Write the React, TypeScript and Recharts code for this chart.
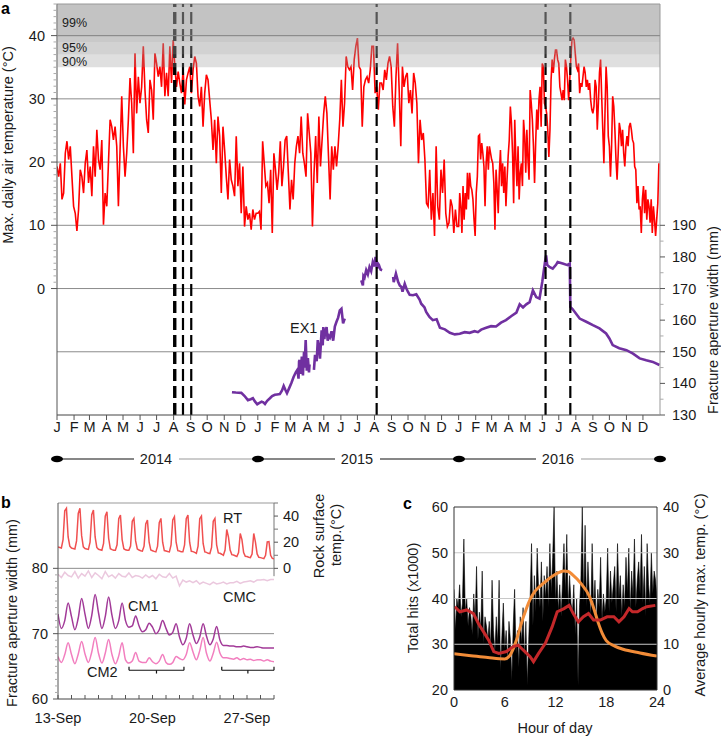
import {
  Area,
  ComposedChart,
  Line,
  LineChart,
  ReferenceArea,
  ReferenceLine,
  XAxis,
  YAxis,
} from "recharts";

const FONT = '"Liberation Sans", Arial, Helvetica, sans-serif';
const txt = { fontFamily: FONT, fontSize: 14.5, fill: "#1a1a1a" };

// ---------- panel a: daily max air temperature (°C), one array per year ----------
const tmax2014 = [
  19.3, 17.7, 19.8, 14.1, 15.1, 21.4, 23.3, 20.4, 22.5, 17.7,
  13.0, 11.9, 9.1, 12.5, 18.8, 17.7, 15.1, 19.8, 21.9, 16.7,
  19.3, 14.6, 22.5, 17.7, 25.1, 20.4, 18.8, 23.5, 10.1, 15.1,
  13.0, 19.8, 26.7, 25.6, 23.5, 25.6, 22.5, 13.0, 21.9, 30.4,
  22.5, 17.7, 21.4, 26.7, 33.3, 29.3, 21.4, 37.2, 27.7, 33.5,
  29.3, 31.9, 38.3, 31.4, 26.7, 24.6, 33.0, 31.4, 26.7, 37.2,
  35.6, 33.5, 35.1, 31.9, 38.8, 30.4, 34.1, 30.4, 38.3, 32.5,
  39.3, 35.1, 31.9, 34.3, 32.5, 30.9, 34.6, 29.1, 33.0, 34.1,
  35.1, 30.9, 34.6, 36.7, 35.6, 30.4, 28.8, 31.9, 25.6, 30.9,
  33.8, 33.0, 29.8, 26.7, 21.9, 26.7, 19.8, 27.2, 24.1, 15.1,
  25.6, 21.9, 17.7, 14.1, 20.4, 17.2, 16.2, 14.6, 24.1, 16.2,
  19.8, 11.9, 19.3, 9.8, 13.0, 10.9, 11.9, 9.3, 12.5, 10.9,
  11.9,
];
const tmax2015 = [
  11.9, 12.2, 9.3, 23.3, 19.8, 16.2, 16.7, 13.5, 18.8, 8.8,
  21.4, 18.8, 15.6, 18.3, 23.3, 16.2, 19.3, 23.5, 24.1, 18.3,
  12.5, 17.2, 14.1, 19.8, 22.5, 24.1, 21.4, 27.2, 21.4, 19.8,
  17.7, 27.7, 24.6, 21.4, 9.8, 18.3, 24.1, 16.7, 27.2, 19.3,
  23.5, 27.7, 30.4, 27.7, 20.9, 14.1, 22.5, 18.8, 22.5, 19.3,
  22.5, 26.7, 33.0, 25.6, 29.3, 36.7, 35.1, 34.6, 35.1, 31.4,
  36.2, 38.3, 39.6, 35.1, 34.6, 25.6, 31.9, 33.0, 33.5, 32.5,
  34.6, 38.3, 38.3, 30.9, 31.9, 28.3, 32.5, 32.5, 31.4, 34.6,
  33.0, 35.6, 36.7, 35.1, 28.8, 25.6, 33.5, 38.8, 31.4, 22.5,
  35.1, 31.9, 33.5, 34.1, 29.3, 31.4, 27.7, 34.1, 32.5, 29.3,
  19.8, 26.7, 23.5, 24.6, 20.4, 13.5, 13.0, 18.8, 10.9, 15.1,
  8.3, 22.5, 13.0, 10.9, 18.8, 15.1, 20.4, 11.9, 9.8, 10.4,
  14.1, 13.0, 8.8, 12.5, 9.8,
];
const tmax2016 = [
  9.8, 15.1, 13.0, 8.8, 16.2, 10.9, 15.1, 12.5, 18.3, 14.1,
  18.3, 16.2, 15.6, 14.1, 10.9, 8.3, 15.1, 17.7, 24.1, 24.3,
  20.4, 23.0, 21.4, 19.3, 13.0, 19.8, 22.5, 18.8, 22.5, 21.4,
  20.4, 19.8, 16.7, 9.3, 18.8, 15.6, 11.9, 18.3, 21.9, 16.2,
  19.8, 15.1, 19.3, 13.0, 17.2, 20.9, 23.5, 28.8, 26.2, 21.4,
  13.5, 26.7, 20.4, 16.2, 22.5, 14.1, 18.3, 19.8, 16.2, 26.7,
  24.1, 18.3, 25.1, 20.4, 17.2, 31.4, 29.3, 26.7, 22.5, 16.7,
  23.0, 28.3, 25.1, 29.8, 31.9, 25.6, 35.6, 35.1, 29.3, 28.8,
  27.7, 25.1, 20.8, 25.1, 33.0, 36.2, 34.1, 36.2, 37.7, 37.7,
  36.2, 35.6, 31.9, 30.9, 29.8, 31.4, 29.8, 36.2, 35.1, 33.0,
  29.8, 33.0, 36.7, 39.3, 39.6, 39.3, 37.2, 35.1, 34.6, 35.6,
  30.9, 32.5, 31.9, 33.5, 35.1, 34.1, 31.9, 33.0, 31.4, 32.5,
  29.8, 28.3, 27.7, 28.8, 33.0, 31.9, 25.1, 29.3, 34.1, 36.2,
  30.4, 25.1, 19.8, 27.7, 35.1, 31.9, 24.1, 22.5, 17.7, 22.5,
  30.4, 28.8, 25.1, 20.4, 17.2, 21.4, 26.2, 25.1, 22.5, 25.1,
  21.4, 19.3, 22.5, 24.1, 22.5, 25.6, 26.2, 25.1, 23.5, 23.0,
  19.3, 18.8, 13.5, 16.2, 12.5, 13.0, 8.8, 14.1, 16.2, 11.9,
  15.6, 10.9, 14.1, 13.0, 10.4, 14.1, 8.8, 13.0, 10.9, 8.3,
  10.9, 13.5, 19.8,
];

// ---------- panel a: fracture aperture EX1 (mm); day 0 = 1 Jan 2014, null = gap ----------
const ex1Day = [
  318, 325, 335, 341, 347, 352, 356, 360, 364, 368, 372, 375, 378, 382, 387, 391, 396, 400, 405, 409,
  412, 415, 418, 422, 426, 430, 434, 437, 439, 440, 441, 443, 445, 447, 449, 450, 452, 454, 456, 458,
  459, 462, 467, 469, 472, 474, 477, 478, 481, 483, 484, 486, 487, 490, 492, 494, 496, 499, 502, 505,
  508, 511, 514, 517, 520, 523, 540, 553, 556, 557, 559, 562, 565, 568, 571, 574, 577, 579, 582, 583,
  585, 588, 591, 600, 611, 612, 616, 620, 623, 626, 628, 632, 635, 638, 641, 647, 653, 659, 662, 668,
  671, 677, 683, 690, 696, 705, 714, 723, 732, 741, 750, 759, 765, 771, 780, 789, 798, 807, 816, 826,
  835, 841, 847, 853, 859, 865, 871, 877, 882, 887, 889, 891, 895, 901, 907, 910, 919, 928, 932, 933,
  937, 950, 962, 974, 986, 998, 1004, 1010, 1022, 1035, 1047, 1059, 1071, 1083, 1095,
];
const ex1Width = [
  137.2, 137.1, 137.0, 136.0, 134.7, 135.0, 135.3, 134.2, 133.4, 133.8, 134.2, 134.0, 133.5, 134.5, 135.3, 136.0, 136.4, 136.5, 136.6, 137.8,
  139.2, 138.0, 136.9, 138.5, 140.1, 142.0, 143.5, 144.3, 141.5, 147.0, 147.4, 143.0, 148.5, 142.5, 150.0, 145.0, 153.7, 144.0, 148.0, 143.5,
  146.0, null, 144.3, 149.0, 147.0, 153.7, 150.0, 147.8, 156.8, 152.0, 157.8, 154.0, 156.0, 157.8, 153.5, 155.0, 154.5, 156.5, 153.5, 158.0,
  159.5, 160.8, 163.1, 163.6, 159.0, 160.5, null, 172.6, 171.0, 174.0, 173.5, 175.8, 174.5, 176.8, 175.5, 178.4, 177.0, 180.0, 176.3, 178.0,
  177.5, 176.0, 175.8, null, 173.7, 172.0, 174.7, 172.1, 171.0, 170.5, 169.0, 171.5, 170.0, 168.9, 168.0, 167.9, 168.2, 166.5, 165.2, 164.0,
  162.6, 161.0, 160.0, 160.3, 157.6, 157.1, 156.0, 155.5, 155.7, 156.2, 156.0, 156.5, 156.2, 157.0, 157.6, 158.1, 158.0, 159.2, 160.0, 161.3,
  162.4, 165.0, 164.0, 165.0, 165.7, 169.4, 167.3, 166.8, 172.1, 178.4, 180.5, 177.5, 176.8, 176.3, 177.5, 178.4, 177.9, 177.4, 177.9, 164.2,
  163.5, 160.5, 159.5, 158.4, 157.4, 155.8, 154.2, 152.1, 151.1, 150.5, 149.4, 147.9, 147.3, 146.8, 145.8,
];

const eventDays = [214, 229, 244, 581, 888, 933];
const bandEdges = [35, 37, 39, 40, 45];
const bandOpacity = [0.3, 0.43, 0.51, 0.57];
const tempGrid = [-10, 0, 10, 20, 30, 40];
const monthLetters = ["J", "F", "M", "A", "M", "J", "J", "A", "S", "O", "N", "D"];
const years = [2014, 2015, 2016];

const DAY0 = Date.UTC(2014, 0, 1);
const monthTicks = years.flatMap((y) => monthLetters.map((_, m) => (Date.UTC(y, m, 1) - DAY0) / 864e5));
const monthOf = (d: number) => monthLetters[new Date(DAY0 + d * 864e5).getUTCMonth()];
const tempTicks = Array.from({ length: 46 }, (_, i) => i);
const mmTicks = [130, 135, 140, 145, 150, 155, 160, 165, 170, 175, 180, 185, 190];

const redRows = [
  ...tmax2014.map((t, i) => ({ day: (i * 365) / tmax2014.length, t })),
  ...tmax2015.map((t, i) => ({ day: 365 + (i * 365) / tmax2015.length, t })),
  ...tmax2016.map((t, i) => ({ day: 730 + (i * 366) / tmax2016.length, t })),
];
const ex1Rows = ex1Day.map((day, i) => ({ day, w: ex1Width[i] }));

// ---------- panel b: 13-29 Sep, day 0 = 13 Sep 00:00 ----------
// rock surface temperature, 3-hourly (00,03,...,21 h per row)
const rtTemp = [
  16.4, 16.0, 15.6, 22, 44, 46, 24, 17,
  15.5, 15.1, 14.8, 21, 42, 46, 25, 16.5,
  15.2, 14.8, 14.5, 20, 41, 44.6, 24, 16,
  14.6, 14.2, 13.8, 19, 40, 43.3, 23, 15,
  14.3, 13.9, 13.8, 18, 38, 40.8, 22, 15,
  14.2, 13.8, 13.8, 17, 36, 38.2, 21, 14.8,
  14.0, 13.5, 13.2, 17, 34, 36.9, 20, 14,
  13.5, 13.0, 12.6, 17, 35, 38.2, 20, 13.6,
  13.3, 12.9, 12.6, 18, 37, 39.5, 20, 13.5,
  13.2, 12.6, 12.6, 18, 38, 40.8, 20, 13,
  12.8, 12.2, 11.5, 17, 38, 40, 19, 12.5,
  12.2, 11.5, 11.3, 16, 36, 38.2, 18, 11.8,
  11.5, 10.8, 10.0, 14, 29.7, 24, 14, 10.5,
  10.2, 9.6, 9.0, 12, 26.7, 22, 12, 9.2,
  9.0, 8.5, 8.2, 11, 26.7, 20, 11, 8.5,
  8.2, 7.8, 7.4, 10, 20.3, 20.5, 10, 7.6,
  7.4,
];
// crack meters, 6-hourly (00,06,12,18 h per row)
const cmcWidth = [
  79.1, 78.6, 79.4, 78.9, 78.7, 79.5, 78.5, 79.2, 78.8, 79.6, 78.6, 79.3,
  78.9, 78.4, 79.5, 78.7, 79.0, 78.5, 79.2, 78.8, 78.7, 79.3, 78.6, 78.9,
  78.8, 78.5, 79.0, 78.6, 78.9, 78.4, 79.1, 78.7, 78.6, 79.2, 78.5, 78.8,
  77.3, 78.2, 77.9, 78.1, 77.8, 78.1, 77.6, 77.9, 77.7, 77.5, 77.9, 77.6,
  77.7, 77.9, 77.6, 77.8, 77.8, 78.0, 77.7, 77.9, 78.0, 78.1, 77.9, 78.2,
  78.2, 78.3, 78.1, 78.3, 78.3,
];
const cm1Width = [
  73.0, 70.8, 72.0, 74.7, 72.6, 70.6, 72.4, 75.4, 73.0, 70.8, 72.8, 76.0,
  73.2, 70.8, 72.6, 75.6, 72.8, 70.8, 72.0, 74.7, 72.0, 71.0, 71.2, 72.7,
  71.2, 70.3, 70.6, 71.6, 71.0, 70.0, 70.6, 72.0, 70.8, 69.8, 70.2, 71.5,
  69.5, 68.3, 69.3, 71.5, 69.8, 68.5, 69.5, 71.5, 69.6, 68.3, 69.2, 71.1,
  69.0, 68.2, 68.2, 68.1, 68.1, 68.0, 68.0, 68.1, 68.0, 67.9, 67.9, 68.0,
  67.9, 67.8, 67.8, 67.8, 67.8,
];
const cm2Width = [
  66.5, 65.6, 66.8, 68.6, 66.8, 65.4, 66.9, 68.8, 66.9, 65.6, 67.2, 69.4,
  67.0, 65.5, 67.0, 69.1, 66.8, 65.4, 66.6, 68.6, 66.0, 65.5, 65.8, 67.1,
  65.8, 65.6, 65.6, 66.3, 65.7, 65.4, 65.8, 66.8, 65.6, 65.3, 65.6, 66.5,
  66.2, 66.0, 66.8, 68.6, 67.2, 66.0, 67.4, 69.4, 67.0, 65.8, 67.0, 68.7,
  67.0, 66.3, 66.3, 66.2, 66.1, 66.3, 66.0, 66.2, 66.0, 66.1, 65.9, 66.0,
  66.0, 65.8, 66.0, 65.8, 65.7,
];
const bTickDays = [0, 7, 14];
const bTickLabels = ["13-Sep", "20-Sep", "27-Sep"];
const bracketSpans = [
  [5.26, 9.33],
  [12.13, 16],
];

const rtRows = rtTemp.map((v, i) => ({ day: i / 8, v }));
const cmcRows = cmcWidth.map((v, i) => ({ day: i / 4, v }));
const cm1Rows = cm1Width.map((v, i) => ({ day: i / 4, v }));
const cm2Rows = cm2Width.map((v, i) => ({ day: i / 4, v }));

// ---------- panel c: hits per 10 minutes (x1000) and hourly temperatures ----------
const hits = [
  42, 33, 40, 38, 43, 36, 39, 53, 37, 40, 34, 38, 36, 32, 41, 35, 47, 31,
  37, 33, 46, 30, 36, 34, 31, 35, 29, 44, 33, 28, 36, 30, 44, 24, 32, 39,
  29, 33, 26, 35, 31, 22, 34, 42, 28, 33, 25, 36, 30, 38, 27, 35, 21, 31,
  40, 52, 34, 45, 37, 51, 42, 38, 48, 35, 45, 40, 47, 38, 52, 41, 49, 60,
  39, 46, 37, 43, 36, 44, 52, 41, 54, 38, 45, 39, 37, 43, 32, 40, 21, 38,
  44, 60, 39, 56, 38, 48, 41, 36, 52, 38, 44, 34, 42, 38, 49, 35, 41, 37,
  40, 51, 37, 46, 39, 43, 47, 37, 52, 40, 45, 36, 43, 38, 49, 41, 51, 37,
  46, 40, 53, 38, 44, 48, 41, 54, 39, 47, 36, 52, 43, 39, 50, 41, 46, 44,
  40,
];
const rockHour = [
  0.1, 0.7, 1.5, 2.3, 2.9, 3.5, 4.1, 4.7, 5.3, 6.2, 7.0, 7.6, 8.2, 9.0, 9.4, 10.0, 10.8, 11.6, 12.2,
  13.0, 13.6, 14.1, 14.7, 15.3, 15.9, 16.5, 17.3, 18.1, 18.9, 19.5, 20.1, 20.7, 21.1, 21.7, 22.3, 22.8, 23.8,
];
const rockTemp = [
  18.2, 17.1, 17.5, 16.7, 14.5, 12.7, 10.9, 8.4, 8.0, 8.4, 9.5, 9.8, 8.7, 7.3, 6.2, 8.0, 10.2, 13.8, 17.1,
  17.8, 18.5, 16.7, 14.9, 16.0, 16.7, 15.3, 15.3, 16.0, 16.0, 14.9, 16.0, 17.8, 17.1, 17.1, 17.8, 18.2, 18.5,
];
const airHour = [0, 2, 4, 6, 6.5, 7, 7.5, 8, 8.5, 9, 9.5, 10, 11, 12, 13, 13.5, 14, 15, 16, 16.5, 17, 17.5, 18, 19, 20, 22, 24];
const airTemp = [7.9, 7.5, 7.1, 6.8, 7.3, 9.0, 11.6, 14.8, 17.5, 19.8, 21.4, 22.4, 24.0, 25.3, 26.0, 25.9, 25.2, 23.3, 20.5, 18.0, 15.0, 12.5, 10.8, 9.6, 8.9, 8.1, 7.4];
const cHourTicks = [0, 6, 12, 18, 24];

const hitRows = hits.map((v, i) => ({ h: i / 6, v }));
const rockRows = rockHour.map((h, i) => ({ h, v: rockTemp[i] }));
const airRows = airHour.map((h, i) => ({ h, v: airTemp[i] }));

// ---------- tick renderers ----------
const leftTick = (isMajor: (v: number) => boolean, minor: number, major: number, gap: number, col = "#999") =>
  (p: any) => {
    const v = p.payload.value;
    const m = isMajor(v);
    return (
      <g>
        {(m ? major : minor) > 0 && <line x1={p.x} x2={p.x - (m ? major : minor)} y1={p.y} y2={p.y} stroke={m ? "#555" : col} />}
        {m && (
          <text x={p.x - gap} y={p.y} dy="0.35em" textAnchor="end" {...txt}>
            {v}
          </text>
        )}
      </g>
    );
  };
const rightTick = (isMajor: (v: number) => boolean, minor: number, major: number, gap: number, col = "#999") =>
  (p: any) => {
    const v = p.payload.value;
    const m = isMajor(v);
    return (
      <g>
        {(m ? major : minor) > 0 && <line x1={p.x} x2={p.x + (m ? major : minor)} y1={p.y} y2={p.y} stroke={m ? "#555" : col} />}
        {m && (
          <text x={p.x + gap} y={p.y} dy="0.35em" textAnchor="start" {...txt}>
            {v}
          </text>
        )}
      </g>
    );
  };

const monthTick = (p: any) => (
  <g>
    <line x1={p.x} x2={p.x} y1={p.y} y2={p.y + 5} stroke="#555" />
    <text x={p.x} y={p.y + 12} dy="0.35em" textAnchor="middle" {...txt}>
      {monthOf(p.payload.value)}
    </text>
  </g>
);
const sepTick = (p: any) => {
  const k = bTickDays.indexOf(p.payload.value);
  return (
    <g>
      <line x1={p.x} x2={p.x} y1={p.y} y2={p.y - 4} stroke="#555" />
      {k >= 0 && (
        <text x={p.x} y={p.y + 19} dy="0.35em" textAnchor="middle" {...txt}>
          {bTickLabels[k]}
        </text>
      )}
    </g>
  );
};
const hourTick = (p: any) => (
  <text x={p.x} y={p.y + 12} dy="0.35em" textAnchor="middle" {...txt}>
    {p.payload.value}
  </text>
);

const axisBase = { tickSize: 0, tickMargin: 0, tickLine: false, interval: 0 as const, allowDataOverflow: true };
const A_MARGIN = { top: 4, right: 0, bottom: 0, left: 0 };

function PanelA() {
  return (
    <LineChart width={721} height={440} margin={A_MARGIN}>
      <XAxis
        {...axisBase}
        type="number"
        dataKey="day"
        domain={[0, 1096]}
        ticks={monthTicks}
        height={25}
        axisLine={{ stroke: "#444" }}
        tick={monthTick}
      />
      <YAxis
        {...axisBase}
        yAxisId="t"
        type="number"
        domain={[-20, 45]}
        ticks={tempTicks}
        width={57}
        axisLine={{ stroke: "#555" }}
        tick={leftTick((v) => v % 10 === 0, 3.5, 6, 12, "#aaa")}
      />
      <YAxis
        {...axisBase}
        yAxisId="mm"
        orientation="right"
        type="number"
        domain={[130, 260]}
        ticks={mmTicks}
        width={61}
        axisLine={{ stroke: "#999" }}
        tick={rightTick((v) => v % 10 === 0, 3.5, 5, 12, "#aaa")}
      />
      {tempGrid.map((v) => (
        <ReferenceLine key={v} yAxisId="t" y={v} stroke="#8c8c8c" strokeWidth={1} />
      ))}
      <ReferenceLine yAxisId="t" y={45} stroke="#999" />
      <Line data={redRows} yAxisId="t" dataKey="t" stroke="#ff0000" strokeWidth={1.6} dot={false} activeDot={false} isAnimationActive={false} />
      <Line
        data={ex1Rows}
        yAxisId="mm"
        dataKey="w"
        stroke="#7030a0"
        strokeWidth={2.6}
        dot={false}
        activeDot={false}
        connectNulls={false}
        isAnimationActive={false}
      />
      {eventDays.map((d, i) => (
        <ReferenceLine key={d} yAxisId="t" x={d} stroke="#000" strokeWidth={i === 0 ? 3.4 : 2.2} strokeDasharray="12 5" />
      ))}
    </LineChart>
  );
}

// percentile bands sit above the data, so they get their own chart laid over panel a
function PanelABands() {
  return (
    <LineChart width={721} height={440} margin={{ top: 4, right: 61, bottom: 25, left: 57 }}>
      <XAxis hide type="number" dataKey="day" domain={[0, 1096]} allowDataOverflow />
      <YAxis hide yAxisId="t" type="number" domain={[-20, 45]} allowDataOverflow />
      <Line data={redRows} yAxisId="t" dataKey="t" stroke="none" dot={false} activeDot={false} isAnimationActive={false} />
      {bandOpacity.map((op, i) => (
        <ReferenceArea key={i} yAxisId="t" y1={bandEdges[i]} y2={bandEdges[i + 1]} fill="#969696" fillOpacity={op} stroke="none" />
      ))}
      <ReferenceLine yAxisId="t" y={40} stroke="#8c8c8c" />
    </LineChart>
  );
}

function PanelB() {
  return (
    <LineChart width={340} height={257} margin={{ top: 23, right: 0, bottom: 0, left: 0 }}>
      <XAxis
        {...axisBase}
        type="number"
        dataKey="day"
        domain={[0, 16]}
        ticks={Array.from({ length: 17 }, (_, i) => i)}
        height={38}
        axisLine={{ stroke: "#444" }}
        tick={sepTick}
      />
      <YAxis
        {...axisBase}
        yAxisId="mm"
        type="number"
        domain={[60, 90]}
        ticks={Array.from({ length: 21 }, (_, i) => 60 + i)}
        width={58}
        axisLine={{ stroke: "#555" }}
        tick={leftTick((v) => v % 10 === 0, 3, 5, 10, "#aaa")}
      />
      <YAxis
        {...axisBase}
        yAxisId="rt"
        orientation="right"
        type="number"
        domain={[-100, 50]}
        ticks={[0, 10, 20, 30, 40, 50]}
        width={66}
        axisLine={false}
        tick={rightTick((v) => v % 20 === 0 && v < 50, 4, 4, 9, "#777")}
      />
      <ReferenceLine yAxisId="mm" y={70} stroke="#8c8c8c" />
      <ReferenceLine yAxisId="mm" y={80} stroke="#8c8c8c" />
      <ReferenceLine yAxisId="mm" y={90} stroke="#999" />
      <ReferenceLine
        yAxisId="rt"
        segment={[
          { x: 16, y: -6 },
          { x: 16, y: 50 },
        ]}
        stroke="#777"
      />
      <Line data={cmcRows} yAxisId="mm" dataKey="v" stroke="#ebc8de" strokeWidth={1.5} dot={false} activeDot={false} isAnimationActive={false} />
      <Line data={cm2Rows} yAxisId="mm" dataKey="v" type="monotone" stroke="#f27fbf" strokeWidth={1.5} dot={false} activeDot={false} isAnimationActive={false} />
      <Line data={cm1Rows} yAxisId="mm" dataKey="v" type="monotone" stroke="#a23a98" strokeWidth={1.5} dot={false} activeDot={false} isAnimationActive={false} />
      <Line data={rtRows} yAxisId="rt" dataKey="v" stroke="#f05050" strokeWidth={1.5} dot={false} activeDot={false} isAnimationActive={false} />
      {bracketSpans.map(([a, b]) => (
        <g key={a}>
          <ReferenceLine yAxisId="mm" segment={[{ x: a, y: 64.4 }, { x: b, y: 64.4 }]} stroke="#111" strokeWidth={1.2} />
          <ReferenceLine yAxisId="mm" segment={[{ x: a, y: 64.4 }, { x: a, y: 64.95 }]} stroke="#111" strokeWidth={1.2} />
          <ReferenceLine yAxisId="mm" segment={[{ x: b, y: 64.4 }, { x: b, y: 64.95 }]} stroke="#111" strokeWidth={1.2} />
          <ReferenceLine yAxisId="mm" segment={[{ x: (a + b) / 2, y: 64.4 }, { x: (a + b) / 2, y: 63.9 }]} stroke="#111" strokeWidth={1.2} />
        </g>
      ))}
    </LineChart>
  );
}

function PanelC() {
  return (
    <ComposedChart width={361} height={257} data={hitRows} margin={{ top: 27, right: 0, bottom: 0, left: 0 }}>
      <XAxis
        {...axisBase}
        type="number"
        dataKey="h"
        domain={[0, 24]}
        ticks={cHourTicks}
        height={47}
        axisLine={{ stroke: "#333" }}
        tick={hourTick}
      />
      <YAxis
        {...axisBase}
        yAxisId="hits"
        type="number"
        domain={[20, 60]}
        ticks={[20, 30, 40, 50, 60]}
        width={94}
        axisLine={{ stroke: "#333" }}
        tick={leftTick(() => true, 0, 0, 6)}
      />
      <YAxis
        {...axisBase}
        yAxisId="temp"
        orientation="right"
        type="number"
        domain={[0, 40]}
        ticks={[0, 10, 20, 30, 40]}
        width={64}
        axisLine={{ stroke: "#333" }}
        tick={rightTick(() => true, 0, 0, 6)}
      />
      <Area
        yAxisId="hits"
        dataKey="v"
        type="linear"
        stroke="#000"
        strokeWidth={0.6}
        fill="#000"
        fillOpacity={1}
        dot={false}
        activeDot={false}
        isAnimationActive={false}
      />
      {[30, 40, 50].map((v) => (
        <ReferenceLine key={v} yAxisId="hits" y={v} stroke="#c8c8c8" zIndex={150} />
      ))}
      <ReferenceLine yAxisId="hits" y={60} stroke="#333" />
      <Line data={airRows} yAxisId="temp" dataKey="v" type="monotone" stroke="#f28c38" strokeWidth={3} dot={false} activeDot={false} isAnimationActive={false} />
      <Line data={rockRows} yAxisId="temp" dataKey="v" stroke="#c4282a" strokeWidth={3} dot={false} activeDot={false} isAnimationActive={false} />
    </ComposedChart>
  );
}

function Timeline() {
  const left = 57;
  const yearW = 201;
  return (
    <g>
      {years.map((yr, k) => {
        const x0 = left + k * yearW;
        const xc = x0 + 99;
        const tail = k === 1 ? "#111" : "#999";
        return (
          <g key={yr}>
            <line x1={x0} x2={xc - 22} y1={459} y2={459} stroke="#111" strokeWidth={1.2} />
            <line x1={xc + 23} x2={x0 + yearW} y1={459} y2={459} stroke={tail} strokeWidth={1.2} />
            <text x={xc} y={459} dy="0.35em" textAnchor="middle" {...txt}>
              {yr}
            </text>
          </g>
        );
      })}
      {[0, 1, 2, 3].map((k) => (
        <ellipse key={k} cx={left + k * yearW} cy={459} rx={6} ry={3.3} fill="#000" />
      ))}
    </g>
  );
}

const vtext = (x: number, y: number, s: string) => (
  <text transform={`translate(${x},${y}) rotate(-90)`} textAnchor="middle" dy="0.35em" {...txt}>
    {s}
  </text>
);

export default function App() {
  return (
    <div style={{ position: "absolute", left: 0, top: 0, width: 721, height: 737, background: "#fff", fontFamily: FONT }}>
      <div style={{ position: "absolute", left: 0, top: 0 }}>
        <PanelA />
      </div>
      <div style={{ position: "absolute", left: 0, top: 0, pointerEvents: "none" }}>
        <PanelABands />
      </div>
      <div style={{ position: "absolute", left: 0, top: 480 }}>
        <PanelB />
      </div>
      <div style={{ position: "absolute", left: 360, top: 480 }}>
        <PanelC />
      </div>
      <svg width={721} height={737} style={{ position: "absolute", left: 0, top: 0, pointerEvents: "none" }}>
        <text x={1} y={14} fontWeight="bold" fontSize={16} fontFamily={FONT}>a</text>
        <text x={1} y={508} fontWeight="bold" fontSize={16} fontFamily={FONT}>b</text>
        <text x={403} y={509} fontWeight="bold" fontSize={16} fontFamily={FONT}>c</text>
        {vtext(8, 145, "Max. daily air temperature (°C)")}
        {vtext(713, 320, "Fracture aperture width (mm)")}
        {vtext(12, 613, "Fracture aperture width (mm)")}
        {vtext(319, 536, "Rock surface")}
        {vtext(336, 535, "temp.(°C)")}
        {vtext(413, 598, "Total hits (x1000)")}
        {vtext(700, 595, "Average hourly max. temp. (°C)")}
        <text x={555} y={728} dy="0.35em" textAnchor="middle" {...txt}>Hour of day</text>
        <text x={62} y={22.5} dy="0.35em" {...txt} fontSize={12.5}>99%</text>
        <text x={62} y={47.5} dy="0.35em" {...txt} fontSize={12.5}>95%</text>
        <text x={62} y={62} dy="0.35em" {...txt} fontSize={12.5}>90%</text>
        <text x={290} y={328} dy="0.35em" {...txt}>EX1</text>
        <text x={223} y={518} dy="0.35em" {...txt}>RT</text>
        <text x={223} y={597} dy="0.35em" {...txt}>CMC</text>
        <text x={128} y={606} dy="0.35em" {...txt}>CM1</text>
        <text x={87} y={672} dy="0.35em" {...txt}>CM2</text>
        <Timeline />
      </svg>
    </div>
  );
}
